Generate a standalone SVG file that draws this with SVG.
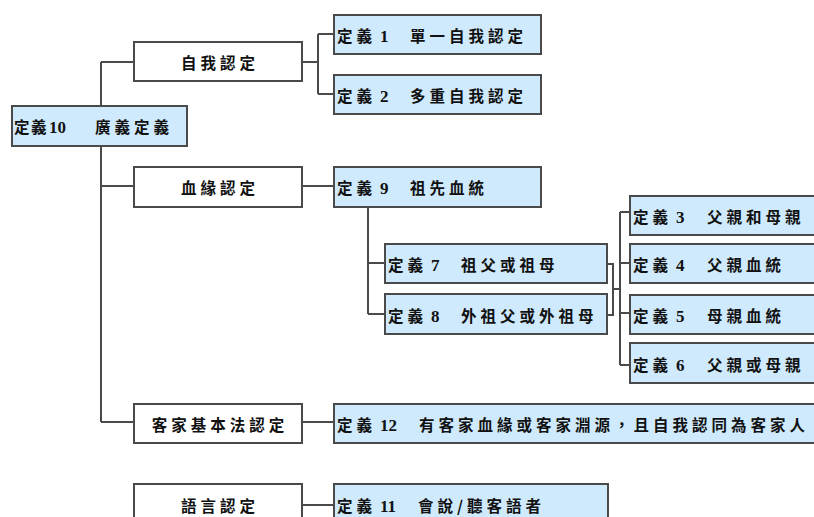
<svg xmlns="http://www.w3.org/2000/svg" width="814" height="517" viewBox="0 0 814 517">
<style>
.wb{fill:#ffffff;stroke:#4a4a4a;stroke-width:2}
.bb{fill:#cfeafc;stroke:#4a4a4a;stroke-width:2}
.t{font-family:"Noto Sans CJK TC","Noto Sans CJK SC",sans-serif;font-size:15.5px;font-weight:bold;fill:#111;letter-spacing:4px}
.tn{letter-spacing:1.5px}
.n{font-family:"Liberation Serif",serif;font-size:17px;font-weight:bold;fill:#111}
.c{text-anchor:middle}
#connectors path{fill:none;stroke:#4a4a4a;stroke-width:2}
</style>
<g id="connectors">
<path d="M101,62 V422 M101,62 H134 M101,186 H134 M101,422 H134"/>
<path d="M302,62 H318 M318,34 V94 M318,34 H334 M318,94 H334"/>
<path d="M302,186 H334"/>
<path d="M368,207 V314 M368,263 H385 M368,314 H385"/>
<path d="M607,264 H613 V315 H607 M613,289 H620 M620,212 V365 M620,212 H630 M620,263 H630 M620,313 H630 M620,365 H630"/>
<path d="M302,422 H334"/>
<path d="M302,505 H334"/>
</g>
<g id="n-def10"><rect class="bb" x="12" y="106" width="175" height="40"/><text class="t tn" x="14" y="133">定義</text><text class="n" x="49" y="133">10</text><text class="t" x="95" y="133">廣義定義</text></g>
<g id="n-self"><rect class="wb" x="134" y="42" width="168" height="39"/><text class="t c" x="220" y="69">自我認定</text></g>
<g id="n-blood"><rect class="wb" x="134" y="167" width="168" height="40"/><text class="t c" x="220" y="194">血緣認定</text></g>
<g id="n-law"><rect class="wb" x="134" y="404" width="168" height="39"/><text class="t c" x="220" y="431">客家基本法認定</text></g>
<g id="n-lang"><rect class="wb" x="134" y="484" width="168" height="45"/><text class="t c" x="220" y="512">語言認定</text></g>
<g id="n-def1"><rect class="bb" x="334" y="15" width="207" height="39"/><text class="t" x="337" y="42">定義</text><text class="n" x="380" y="42">1</text><text class="t" x="410" y="42">單一自我認定</text></g>
<g id="n-def2"><rect class="bb" x="334" y="75" width="207" height="39"/><text class="t" x="337" y="102">定義</text><text class="n" x="380" y="102">2</text><text class="t" x="410" y="102">多重自我認定</text></g>
<g id="n-def9"><rect class="bb" x="334" y="167" width="207" height="40"/><text class="t" x="337" y="194">定義</text><text class="n" x="380" y="194">9</text><text class="t" x="410" y="194">祖先血統</text></g>
<g id="n-def7"><rect class="bb" x="385" y="244" width="222" height="39"/><text class="t" x="388" y="271">定義</text><text class="n" x="431" y="271">7</text><text class="t" x="461" y="271">祖父或祖母</text></g>
<g id="n-def8"><rect class="bb" x="385" y="294" width="222" height="40"/><text class="t" x="388" y="322">定義</text><text class="n" x="431" y="322">8</text><text class="t" x="461" y="322">外祖父或外祖母</text></g>
<g id="n-def3"><rect class="bb" x="630" y="196" width="190" height="39"/><text class="t" x="633" y="223">定義</text><text class="n" x="676" y="223">3</text><text class="t" x="707" y="223">父親和母親</text></g>
<g id="n-def4"><rect class="bb" x="630" y="244" width="190" height="39"/><text class="t" x="633" y="271">定義</text><text class="n" x="676" y="271">4</text><text class="t" x="707" y="271">父親血統</text></g>
<g id="n-def5"><rect class="bb" x="630" y="295" width="190" height="39"/><text class="t" x="633" y="322">定義</text><text class="n" x="676" y="322">5</text><text class="t" x="707" y="322">母親血統</text></g>
<g id="n-def6"><rect class="bb" x="630" y="343" width="190" height="40"/><text class="t" x="633" y="371">定義</text><text class="n" x="676" y="371">6</text><text class="t" x="707" y="371">父親或母親</text></g>
<g id="n-def12"><rect class="bb" x="334" y="404" width="486" height="39"/><text class="t" x="337" y="431">定義</text><text class="n" x="380" y="431">12</text><text class="t" x="419" y="431">有客家血緣或客家淵源，且自我認同為客家人</text></g>
<g id="n-def11"><rect class="bb" x="334" y="484" width="274" height="45"/><text class="t" x="337" y="512">定義</text><text class="n" x="380" y="512">11</text><text class="t" x="418" y="512">會說/聽客語者</text></g>
</svg>
